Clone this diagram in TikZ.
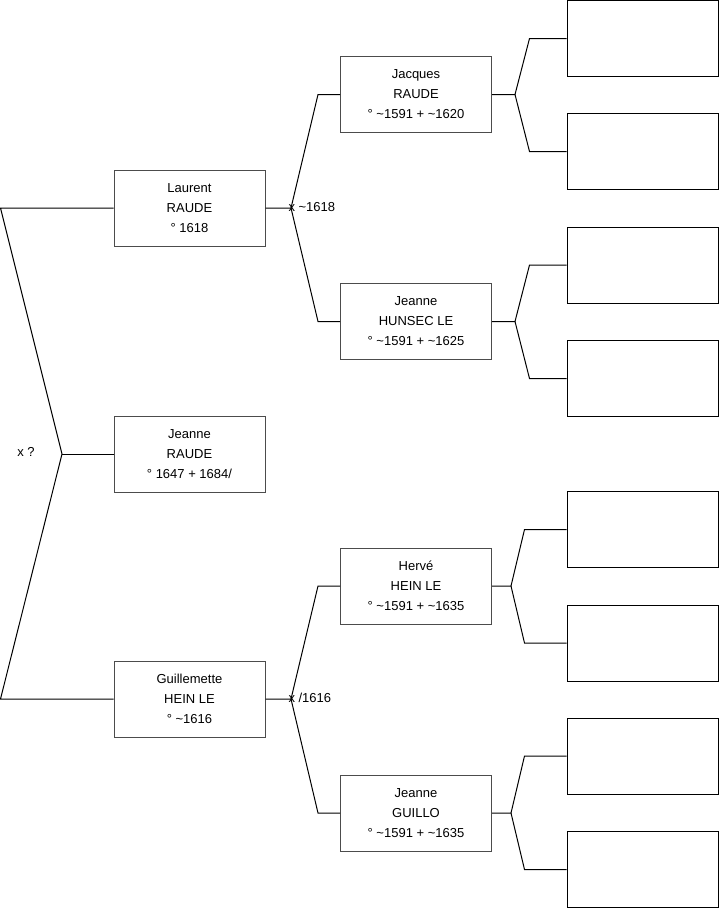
\documentclass[tikz,border=0pt]{standalone}
\usepackage{fontspec}
\setmainfont{Liberation Sans}
\usetikzlibrary{calc}
\begin{document}
\begin{tikzpicture}[x=1pt,y=-1pt,line width=1pt,
  person/.style={draw=black!70,minimum width=151pt,minimum height=76pt,inner sep=0pt,align=center,font=\fontsize{13}{20}\selectfont},
  emptybox/.style={draw=black,minimum width=151pt,minimum height=76pt,inner sep=0pt},
  link/.style={draw=black,line width=1pt},
  lbl/.style={inner sep=0pt,font=\fontsize{13}{15}\selectfont}]
\useasboundingbox (0,0) rectangle (719,908);
% generation 1
\node[person] (laurent) at (189.5,208) {Laurent\\RAUDE\\° 1618};
\node[person] (jeanneR) at (189.5,454) {Jeanne\\RAUDE\\° 1647 + 1684/};
\node[person] (guill) at (189.5,699) {Guillemette\\HEIN LE\\° \textasciitilde1616};
% generation 2
\node[person] (jacques) at (416,94.5) {Jacques\\RAUDE\\° \textasciitilde1591 + \textasciitilde1620};
\node[person] (hunsec) at (416,321.5) {Jeanne\\HUNSEC LE\\° \textasciitilde1591 + \textasciitilde1625};
\node[person] (herve) at (416,586) {Hervé\\HEIN LE\\° \textasciitilde1591 + \textasciitilde1635};
\node[person] (guillo) at (416,813) {Jeanne\\GUILLO\\° \textasciitilde1591 + \textasciitilde1635};
% generation 3 (empty)
\node[emptybox] (e1) at (642.5,38.5) {};
\node[emptybox] (e2) at (642.5,151.5) {};
\node[emptybox] (e3) at (642.5,265) {};
\node[emptybox] (e4) at (642.5,378.5) {};
\node[emptybox] (e5) at (642.5,529.5) {};
\node[emptybox] (e6) at (642.5,643) {};
\node[emptybox] (e7) at (642.5,756) {};
\node[emptybox] (e8) at (642.5,869.5) {};
% left bracket
\coordinate (l1) at (0.5,208);
\coordinate (l2) at (62,454);
\coordinate (l3) at (0.5,699);
\draw[link] (laurent.west) -- (l1) -- (l2) -- (l3) -- (guill.west);
\draw[link] (l2) -- (jeanneR.west);
\node[lbl] (xq) at (26,452) {x ?};
% Laurent's parents
\coordinate (v1) at (291,208);
\draw[link] (laurent.east) -- (v1) -- ($(jacques.west)+(-22,0)$) -- (jacques.west);
\draw[link] (v1) -- ($(hunsec.west)+(-22,0)$) -- (hunsec.west);
\node[lbl,anchor=west] (m1) at (288,207) {x \textasciitilde1618};
% Guillemette's parents
\coordinate (v2) at (291,699);
\draw[link] (guill.east) -- (v2) -- ($(herve.west)+(-22,0)$) -- (herve.west);
\draw[link] (v2) -- ($(guillo.west)+(-22,0)$) -- (guillo.west);
\node[lbl,anchor=west] (m2) at (288,698) {x /1616};
% generation 3 links
\coordinate (w1) at (515,94.5);
\draw[link] (jacques.east) -- (w1) -- ($(e1.west)+(-37,0)$) -- (e1.west);
\draw[link] (w1) -- ($(e2.west)+(-37,0)$) -- (e2.west);
\coordinate (w2) at (515,321.5);
\draw[link] (hunsec.east) -- (w2) -- ($(e3.west)+(-37,0)$) -- (e3.west);
\draw[link] (w2) -- ($(e4.west)+(-37,0)$) -- (e4.west);
\coordinate (w3) at (511,586);
\draw[link] (herve.east) -- (w3) -- ($(e5.west)+(-42,0)$) -- (e5.west);
\draw[link] (w3) -- ($(e6.west)+(-42,0)$) -- (e6.west);
\coordinate (w4) at (511,813);
\draw[link] (guillo.east) -- (w4) -- ($(e7.west)+(-42,0)$) -- (e7.west);
\draw[link] (w4) -- ($(e8.west)+(-42,0)$) -- (e8.west);
\end{tikzpicture}
\end{document}
